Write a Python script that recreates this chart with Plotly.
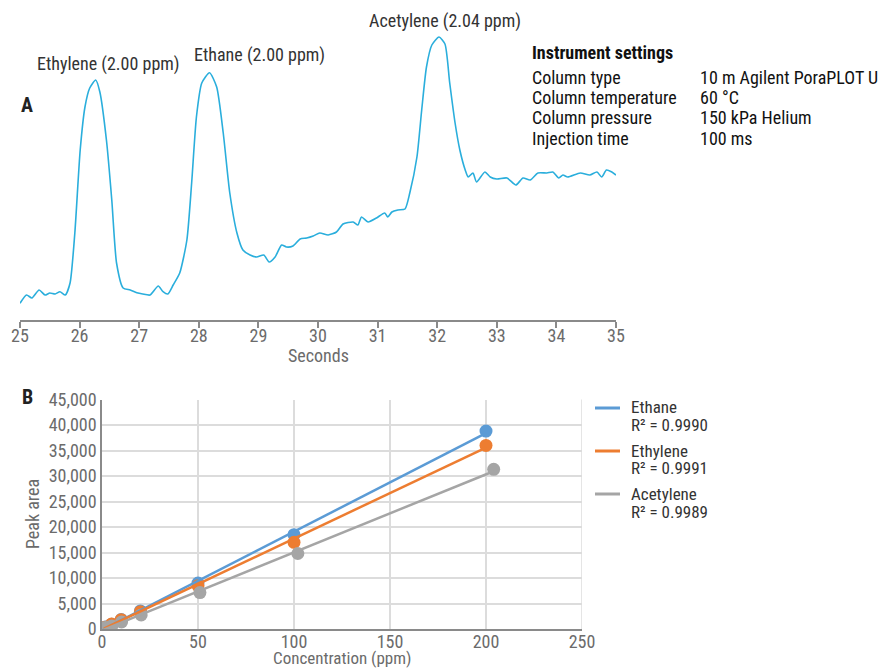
import numpy as np
import plotly.graph_objects as go

# ---------------- Data ----------------
# Chromatogram (A): retention time (s) and detector signal (arbitrary units)
chrom_time = [25.00, 25.11, 25.20, 25.32, 25.42, 25.50, 25.59, 25.67, 25.76, 25.84,
              25.92, 26.01, 26.09, 26.17, 26.27, 26.34, 26.45, 26.54, 26.62, 26.73,
              26.85, 26.96, 27.06, 27.18, 27.32, 27.40, 27.48, 27.57, 27.68, 27.80,
              27.88, 27.96, 28.05, 28.18, 28.30, 28.41, 28.52, 28.64, 28.74, 28.86,
              28.97, 29.09, 29.18, 29.28, 29.39, 29.47, 29.58, 29.70, 29.81, 29.92,
              30.03, 30.17, 30.31, 30.42, 30.59, 30.67, 30.73, 30.84, 30.98, 31.12,
              31.17, 31.24, 31.34, 31.46, 31.54, 31.66, 31.74, 31.82, 31.91, 32.03,
              32.13, 32.21, 32.30, 32.38, 32.47, 32.52, 32.60, 32.66, 32.80, 32.89,
              33.00, 33.17, 33.32, 33.44, 33.56, 33.69, 33.84, 33.94, 34.04, 34.11,
              34.19, 34.40, 34.56, 34.68, 34.76, 34.84, 34.93, 35.00]
chrom_signal = [16.7, 25, 22, 30, 25, 27, 26, 28.3, 25, 37,
                87, 170, 213, 232, 240, 228, 180, 120, 57, 32,
                30, 27.3, 26, 25, 34, 28.3, 26, 35, 47, 80,
                137, 203, 237, 247.3, 233, 187, 127, 87, 70, 65,
                63, 65, 58, 63, 75, 73, 74, 81, 82, 84,
                87, 85, 88, 96, 98, 95, 103, 98, 102, 107,
                103, 108, 110, 111, 127, 163, 210, 253, 275, 283,
                276, 237, 197, 170, 150, 143, 147, 138, 148, 143,
                141, 142, 135, 142, 140, 147, 147, 148, 142, 145,
                143, 147, 145, 148, 143, 150, 148, 145]

peak_labels = ["Ethylene (2.00 ppm)", "Ethane (2.00 ppm)", "Acetylene (2.04 ppm)"]
peak_label_time = [26.49, 29.01, 32.13]
peak_label_signal = [256, 265, 299]

settings_names = ["Column type", "Column temperature", "Column pressure", "Injection time"]
settings_values = ["10 m Agilent PoraPLOT U", "60 °C", "150 kPa Helium", "100 ms"]

# Calibration (B)
ethane_conc = [1, 2, 5, 10, 20, 50, 100, 200]
ethane_area = [190, 380, 950, 1850, 3550, 9000, 18500, 38800]
ethylene_conc = [1, 2, 5, 10, 20, 50, 100, 200]
ethylene_area = [180, 360, 980, 1830, 3400, 8500, 17000, 36000]
acetylene_conc = [1.02, 2.04, 5.1, 10.2, 20.4, 51, 102, 204]
acetylene_area = [150, 300, 600, 1370, 2750, 7150, 14800, 31300]

series_names = ["Ethane", "Ethylene", "Acetylene"]
r2_labels = ["R² = 0.9990", "R² = 0.9991", "R² = 0.9989"]
series_colors = ["#5B9BD5", "#ED7D31", "#A5A5A5"]

FONT = "Liberation Sans Narrow, Roboto Condensed, DejaVu Sans Condensed, Arial Narrow, sans-serif"
TICK_GRAY = "#6b6b6b"
TEXT_DARK = "#333333"

W, H = 891, 670
def fx(px):
    return px / W
def fy(py):
    return 1 - py / H

fig = go.Figure()

# ---------- Panel A ----------
fig.add_trace(go.Scatter(x=chrom_time, y=chrom_signal, mode="lines",
                         line=dict(color="#2AAEDC", width=1.6, shape="spline", smoothing=0.6),
                         xaxis="x", yaxis="y", showlegend=False, hoverinfo="skip"))

# ---------- Panel B ----------
concs = [ethane_conc, ethylene_conc, acetylene_conc]
areas = [ethane_area, ethylene_area, acetylene_area]
for c, a, col in zip(concs, areas, series_colors):
    fig.add_trace(go.Scatter(x=c, y=a, mode="markers",
                             marker=dict(color=col, size=13),
                             xaxis="x2", yaxis="y2", showlegend=False))
for c, a, col, nm in zip(concs, areas, series_colors, series_names):
    k, b = np.polyfit(c, a, 1)
    xs = np.array([min(c), max(c)])
    fig.add_trace(go.Scatter(x=xs, y=k * xs + b, mode="lines",
                             line=dict(color=col, width=2.5),
                             xaxis="x2", yaxis="y2", name=nm, showlegend=False))

annotations = []
for lab, t, s in zip(peak_labels, peak_label_time, peak_label_signal):
    annotations.append(dict(x=t, y=s, xref="x", yref="y", text=lab, showarrow=False,
                            xanchor="center", yanchor="middle",
                            font=dict(family=FONT, size=18, color=TEXT_DARK)))
annotations.append(dict(x=fx(530), y=fy(53), xref="paper", yref="paper", xanchor="left", yanchor="middle",
                        text="<b>Instrument settings</b>", showarrow=False,
                        font=dict(family=FONT, size=18, color="#111111")))
row_y = [77, 97, 118, 139]
for nm, val, ry in zip(settings_names, settings_values, row_y):
    annotations.append(dict(x=fx(530), y=fy(ry), xref="paper", yref="paper", xanchor="left", yanchor="middle",
                            text=nm, showarrow=False, font=dict(family=FONT, size=18, color="#111111")))
    annotations.append(dict(x=fx(697.7), y=fy(ry), xref="paper", yref="paper", xanchor="left", yanchor="middle",
                            text=val, showarrow=False, font=dict(family=FONT, size=18, color="#111111")))
annotations.append(dict(x=fx(27), y=fy(105), xref="paper", yref="paper", text="<b>A</b>",
                        xanchor="center", yanchor="middle",
                        showarrow=False, font=dict(family=FONT, size=20, color="#222222")))
annotations.append(dict(x=fx(27), y=fy(397), xref="paper", yref="paper", text="<b>B</b>",
                        xanchor="center", yanchor="middle",
                        showarrow=False, font=dict(family=FONT, size=20, color="#222222")))
# axis titles
annotations.append(dict(x=fx(318), y=fy(355), xref="paper", yref="paper", text="Seconds",
                        xanchor="center", yanchor="middle", showarrow=False,
                        font=dict(family=FONT, size=18, color=TICK_GRAY)))
annotations.append(dict(x=fx(342), y=0, xref="paper", yref="paper", text="Concentration (ppm)",
                        xanchor="center", yanchor="bottom", showarrow=False,
                        font=dict(family=FONT, size=17, color=TICK_GRAY)))
annotations.append(dict(x=fx(32), y=fy(514), xref="paper", yref="paper", text="Peak area",
                        xanchor="center", yanchor="middle", textangle=-90, showarrow=False,
                        font=dict(family=FONT, size=18, color=TICK_GRAY)))

# manual legend
shapes = []
leg_line_y = [408, 451, 494]
leg_text_y = [(407, 425), (451, 468), (494, 512)]
for nm, r2, col, ly, (ty1, ty2) in zip(series_names, r2_labels, series_colors, leg_line_y, leg_text_y):
    shapes.append(dict(type="line", xref="paper", yref="paper", x0=fx(595), x1=fx(620),
                       y0=fy(ly), y1=fy(ly), line=dict(color=col, width=3)))
    annotations.append(dict(x=fx(629), y=fy(ty1), xref="paper", yref="paper", xanchor="left", yanchor="middle",
                            text=nm, showarrow=False, font=dict(family=FONT, size=17, color=TEXT_DARK)))
    annotations.append(dict(x=fx(629), y=fy(ty2), xref="paper", yref="paper", xanchor="left", yanchor="middle",
                            text=r2, showarrow=False, font=dict(family=FONT, size=17, color=TEXT_DARK)))

fig.update_layout(
    width=W, height=H,
    margin=dict(l=0, r=0, t=0, b=0),
    paper_bgcolor="white", plot_bgcolor="white",
    font=dict(family=FONT, size=18, color=TICK_GRAY),
    showlegend=False,
    xaxis=dict(domain=[fx(20), fx(616)], range=[25, 35], dtick=1, tick0=25,
               showgrid=False, zeroline=False, showline=True, linecolor="#8a8a8a", linewidth=1.5,
               ticks="outside", ticklen=6, tickcolor="#8a8a8a", tickwidth=1.5,
               ticklabelstandoff=-7,
               tickfont=dict(family=FONT, size=18, color=TICK_GRAY),
               anchor="y", automargin=False),
    yaxis=dict(domain=[fy(320), 1.0], range=[0, 320], visible=False, anchor="x"),
    xaxis2=dict(domain=[fx(102), fx(582)], range=[0, 250], dtick=50,
                showgrid=True, gridcolor="#dcdcdc", gridwidth=1.5, zeroline=False,
                showline=True, linecolor="#8a8a8a", linewidth=1.5, ticks="",
                ticklabelstandoff=-4,
                tickfont=dict(family=FONT, size=18, color=TICK_GRAY),
                anchor="y2", automargin=False),
    yaxis2=dict(domain=[fy(629), fy(399.5)], range=[0, 45000], dtick=5000, tickformat=",d",
                showgrid=True, gridcolor="#dcdcdc", gridwidth=1.5, zeroline=False,
                showline=True, linecolor="#8a8a8a", linewidth=1.5, ticks="",
                tickfont=dict(family=FONT, size=18, color=TICK_GRAY),
                anchor="x2", automargin=False),
    annotations=annotations,
    shapes=shapes,
)
fig.add_shape(type="line", xref="x2", yref="paper", x0=250, x1=250, y0=fy(629), y1=fy(399.5),
              line=dict(color="#dcdcdc", width=1.5))

fig.write_html("out.html")
